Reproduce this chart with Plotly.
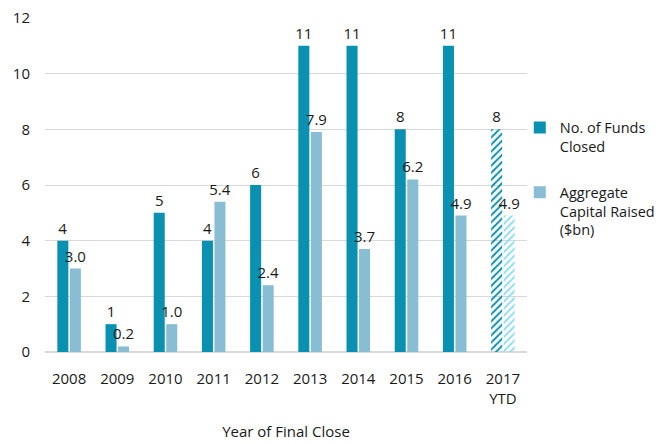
import plotly.graph_objects as go

years = ["2008", "2009", "2010", "2011", "2012", "2013", "2014", "2015", "2016", "2017<br>YTD"]
funds_closed = [4, 1, 5, 4, 6, 11, 11, 8, 11, 8]
capital_raised = [3.0, 0.2, 1.0, 5.4, 2.4, 7.9, 3.7, 6.2, 4.9, 4.9]

dark = "#0a90b1"
light = "#88bdd4"
font = "Open Sans"

pat = [""] * 9 + ["/"]

fig = go.Figure()
fig.add_bar(
    x=years, y=funds_closed, name="No. of Funds<br>Closed", legendgroup="a",
    marker=dict(color=dark, line=dict(width=0),
                pattern=dict(shape=pat, fillmode="replace", size=5, solidity=0.4)),
    text=funds_closed, texttemplate="%{y:d}", textposition="outside",
    constraintext="none",
    textfont=dict(size=15, color="#1a1a1a"), cliponaxis=False,
)
fig.add_bar(
    x=years, y=capital_raised, name="Aggregate<br>Capital Raised<br>($bn)", legendgroup="b",
    marker=dict(color=[light] * 9 + ["#8fdcf0"], line=dict(width=0),
                pattern=dict(shape=pat, fillmode="replace", size=5, solidity=0.4)),
    text=capital_raised, texttemplate="%{y:.1f}", textposition="outside",
    constraintext="none",
    textfont=dict(size=15, color="#1a1a1a"), cliponaxis=False,
)

fig.update_layout(
    width=665, height=444,
    margin=dict(l=45, r=138, t=18, b=92, autoexpand=False),
    paper_bgcolor="white", plot_bgcolor="white",
    font=dict(family=font, size=15, color="#1a1a1a"),
    barmode="group", bargap=0.48, bargroupgap=0.12,
    showlegend=True,
    legend=dict(x=0.985, y=0.72, xanchor="left", yanchor="top",
                font=dict(size=14.5), tracegroupgap=24, itemwidth=30,
                traceorder="grouped", valign="top",
                bgcolor="rgba(0,0,0,0)"),
    xaxis=dict(title=dict(text="Year of Final Close", font=dict(size=15), standoff=19),
               tickfont=dict(size=15), showgrid=False, showline=False, ticks="",
               ticklabelstandoff=16, automargin=False),
    yaxis=dict(range=[0, 12], dtick=2, showgrid=True, gridcolor="#d9d9d9", gridwidth=1,
               zeroline=True, zerolinecolor="#d9d9d9", zerolinewidth=1.5,
               tickfont=dict(size=15), ticks="", ticklabelstandoff=14, automargin=False),
)

fig.write_html("out.html", config={"displayModeBar": False},
               post_script="document.body.style.margin='0';document.body.style.padding='0';")
